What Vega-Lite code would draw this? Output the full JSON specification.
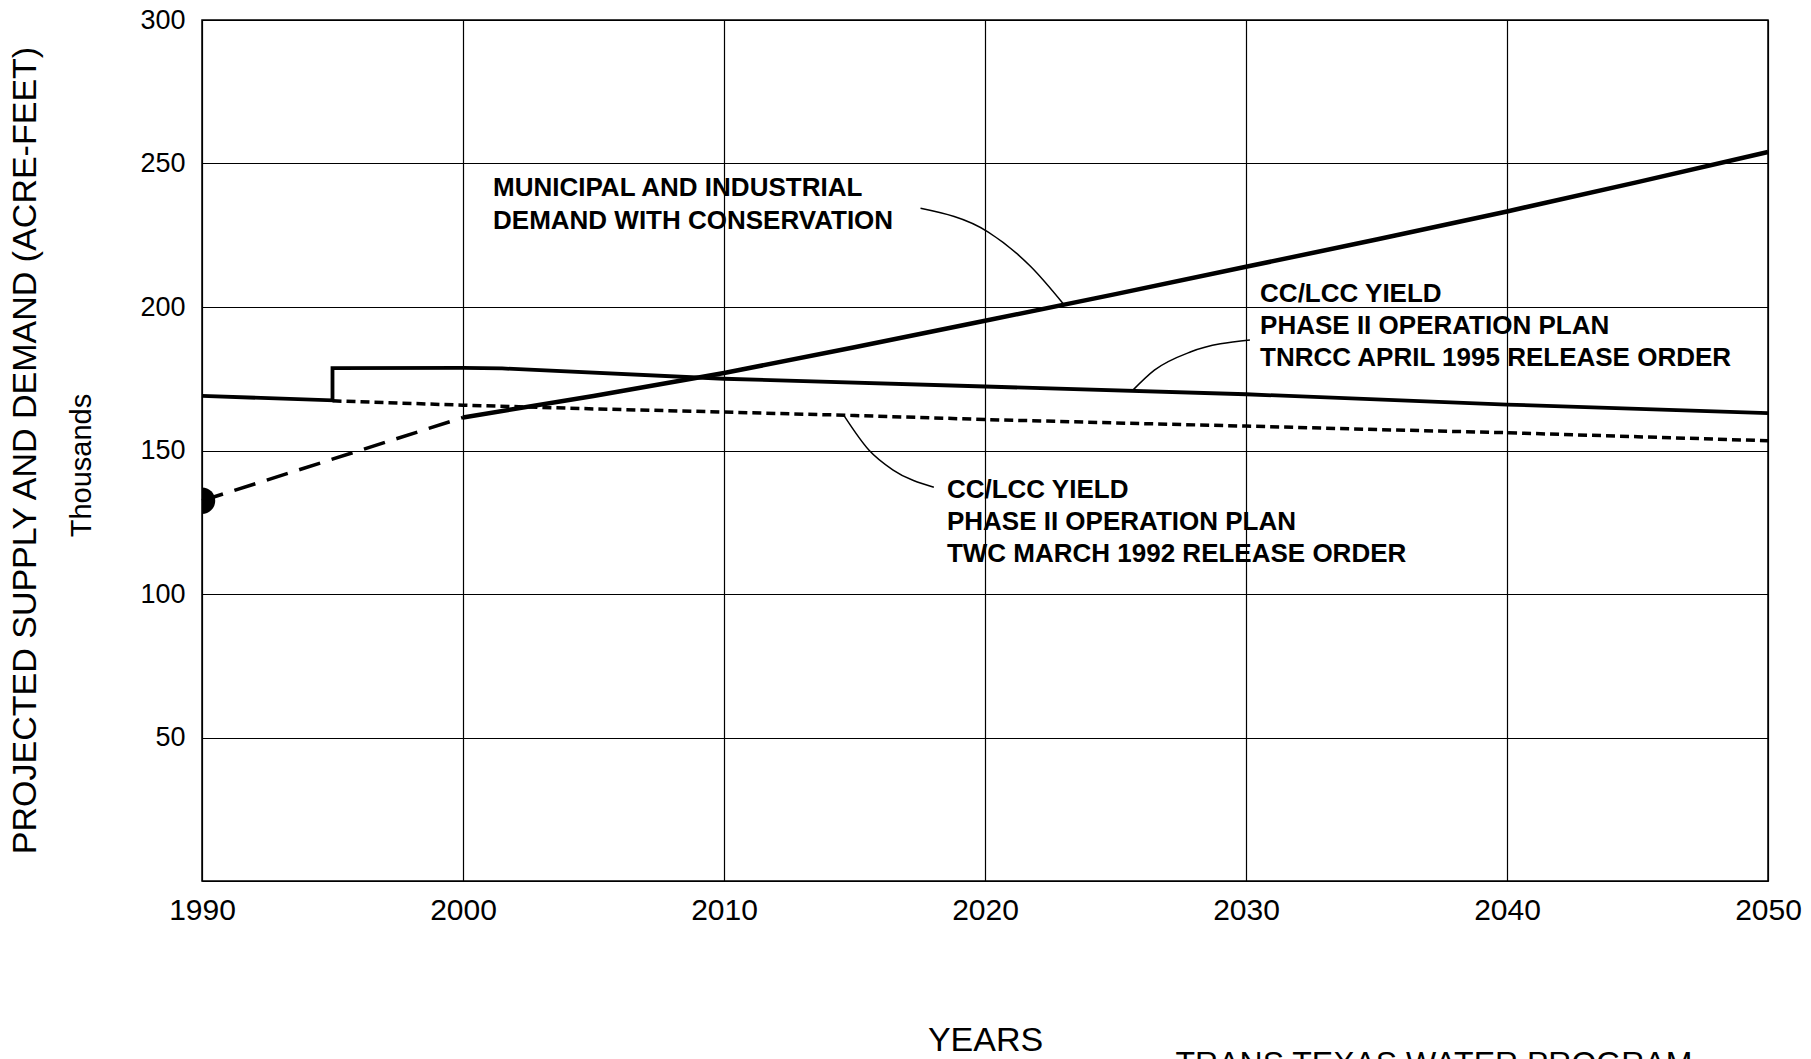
{
  "$schema": "https://vega.github.io/schema/vega-lite/v6.json",
  "width": 1566,
  "height": 861,
  "autosize": {"type": "none"},
  "padding": {"left": 202, "top": 20, "right": 43, "bottom": 178},
  "background": "white",
  "config": {
    "font": "Liberation Sans",
    "view": {"stroke": "black", "strokeWidth": 1.5}
  },
  "title": {
    "text": "PROJECTED SUPPLY AND DEMAND (ACRE-FEET)",
    "orient": "left",
    "anchor": "middle",
    "fontSize": 34,
    "fontWeight": "normal",
    "font": "Liberation Sans",
    "color": "black",
    "offset": 24
  },
  "data": {
    "values": [
      {"k": "demand", "year": 2000, "v": 161.5},
      {"k": "demand", "year": 2005, "v": 169},
      {"k": "demand", "year": 2010, "v": 177},
      {"k": "demand", "year": 2015, "v": 186},
      {"k": "demand", "year": 2020, "v": 195.2},
      {"k": "demand", "year": 2025, "v": 204.5},
      {"k": "demand", "year": 2030, "v": 214},
      {"k": "demand", "year": 2035, "v": 223.5},
      {"k": "demand", "year": 2040, "v": 233.3},
      {"k": "demand", "year": 2045, "v": 243.5},
      {"k": "demand", "year": 2050, "v": 254},
      {"k": "proj", "year": 1990, "v": 132.5},
      {"k": "proj", "year": 2000, "v": 161.5},
      {"k": "tnrcc", "o": 1, "year": 1990, "v": 169},
      {"k": "tnrcc", "o": 2, "year": 1995, "v": 167.5},
      {"k": "tnrcc", "o": 3, "year": 1995, "v": 178.7},
      {"k": "tnrcc", "o": 4, "year": 2000, "v": 178.8},
      {"k": "tnrcc", "o": 5, "year": 2001.5, "v": 178.6},
      {"k": "tnrcc", "o": 6, "year": 2010, "v": 175},
      {"k": "tnrcc", "o": 7, "year": 2020, "v": 172.3},
      {"k": "tnrcc", "o": 8, "year": 2030, "v": 169.6},
      {"k": "tnrcc", "o": 9, "year": 2040, "v": 166},
      {"k": "tnrcc", "o": 10, "year": 2050, "v": 163},
      {"k": "twc", "year": 1995, "v": 167.3},
      {"k": "twc", "year": 2000, "v": 165.8},
      {"k": "twc", "year": 2005, "v": 164.5},
      {"k": "twc", "year": 2010, "v": 163.4},
      {"k": "twc", "year": 2015, "v": 162.2},
      {"k": "twc", "year": 2020, "v": 160.8},
      {"k": "twc", "year": 2025, "v": 159.6},
      {"k": "twc", "year": 2030, "v": 158.5},
      {"k": "twc", "year": 2035, "v": 157.3},
      {"k": "twc", "year": 2040, "v": 156.2},
      {"k": "twc", "year": 2045, "v": 154.8},
      {"k": "twc", "year": 2050, "v": 153.4},
      {"k": "leader", "g": "a", "year": 2017.53, "v": 234.4},
      {"k": "leader", "g": "a", "year": 2020.11, "v": 226.2},
      {"k": "leader", "g": "a", "year": 2021.76, "v": 214},
      {"k": "leader", "g": "a", "year": 2022.99, "v": 201.2},
      {"k": "leader", "g": "b", "year": 2025.62, "v": 170.6},
      {"k": "leader", "g": "b", "year": 2026.49, "v": 178},
      {"k": "leader", "g": "b", "year": 2027.89, "v": 184.4},
      {"k": "leader", "g": "b", "year": 2030.15, "v": 188.5},
      {"k": "leader", "g": "c", "year": 2014.61, "v": 162},
      {"k": "leader", "g": "c", "year": 2015.55, "v": 150.2},
      {"k": "leader", "g": "c", "year": 2016.48, "v": 143.2},
      {"k": "leader", "g": "c", "year": 2018.04, "v": 137.2},
      {"k": "dot", "year": 1990, "v": 132.5},
      {"k": "label", "year": 2001.15, "v": 238.7, "label": "MUNICIPAL AND INDUSTRIAL"},
      {"k": "label", "year": 2001.15, "v": 227.3, "label": "DEMAND WITH CONSERVATION"},
      {"k": "label", "year": 2030.54, "v": 201.7, "label": "CC/LCC YIELD"},
      {"k": "label", "year": 2030.54, "v": 190.6, "label": "PHASE II OPERATION PLAN"},
      {"k": "label", "year": 2030.54, "v": 179.5, "label": "TNRCC APRIL 1995 RELEASE ORDER"},
      {"k": "label", "year": 2018.54, "v": 133.6, "label": "CC/LCC YIELD"},
      {"k": "label", "year": 2018.54, "v": 122.3, "label": "PHASE II OPERATION PLAN"},
      {"k": "label", "year": 2018.54, "v": 111.1, "label": "TWC MARCH 1992 RELEASE ORDER"},
      {"k": "footer", "year": 2027.3, "v": -58.5, "label": "TRANS TEXAS WATER PROGRAM"}
    ]
  },
  "encoding": {
    "x": {
      "field": "year",
      "type": "quantitative",
      "scale": {"domain": [1990, 2050], "nice": false, "zero": false},
      "axis": {
        "title": "YEARS",
        "values": [1990, 2000, 2010, 2020, 2030, 2040, 2050],
        "format": "d",
        "labelFontSize": 30,
        "labelColor": "black",
        "labelPadding": 14,
        "labelFlush": false,
        "ticks": false,
        "tickSize": 0,
        "domain": false,
        "grid": true,
        "gridColor": "black",
        "gridWidth": 1.2,
        "gridOpacity": 1,
        "titleFontSize": 34,
        "titleFontWeight": "normal",
        "titleColor": "black",
        "titleBaseline": "alphabetic",
        "titleY": 169
      }
    },
    "y": {
      "field": "v",
      "type": "quantitative",
      "scale": {"domain": [0, 300], "nice": false, "zero": true},
      "axis": {
        "title": "Thousands",
        "values": [0, 50, 100, 150, 200, 250, 300],
        "labelExpr": "datum.value == 0 ? '' : datum.label",
        "labelFontSize": 27,
        "labelColor": "black",
        "labelPadding": 17,
        "ticks": false,
        "tickSize": 0,
        "domain": false,
        "grid": true,
        "gridColor": "black",
        "gridWidth": 1.2,
        "gridOpacity": 1,
        "titleFontSize": 29,
        "titleFontWeight": "normal",
        "titleColor": "black",
        "titleAngle": -90,
        "titleBaseline": "alphabetic",
        "titleX": -112,
        "titleY": 445
      }
    }
  },
  "layer": [
    {
      "transform": [{"filter": "datum.k == 'demand'"}],
      "mark": {"type": "line", "color": "black", "strokeWidth": 4.5}
    },
    {
      "transform": [{"filter": "datum.k == 'proj'"}],
      "mark": {"type": "line", "color": "black", "strokeWidth": 3.5, "strokeDash": [22, 12]}
    },
    {
      "transform": [{"filter": "datum.k == 'tnrcc'"}],
      "mark": {"type": "line", "color": "black", "strokeWidth": 3.8},
      "encoding": {"order": {"field": "o", "type": "quantitative"}}
    },
    {
      "transform": [{"filter": "datum.k == 'twc'"}],
      "mark": {"type": "line", "color": "black", "strokeWidth": 3.5, "strokeDash": [9, 5]}
    },
    {
      "transform": [{"filter": "datum.k == 'leader'"}],
      "mark": {"type": "line", "color": "black", "strokeWidth": 1.5, "interpolate": "monotone"},
      "encoding": {"detail": {"field": "g", "type": "nominal"}}
    },
    {
      "transform": [{"filter": "datum.k == 'dot'"}],
      "mark": {"type": "point", "shape": "circle", "filled": true, "size": 700, "color": "black", "opacity": 1, "clip": true}
    },
    {
      "transform": [{"filter": "datum.k == 'label'"}],
      "mark": {"type": "text", "align": "left", "baseline": "alphabetic", "fontSize": 26, "fontWeight": "bold", "color": "black"},
      "encoding": {"text": {"field": "label", "type": "nominal"}}
    },
    {
      "transform": [{"filter": "datum.k == 'footer'"}],
      "mark": {"type": "text", "align": "left", "baseline": "top", "fontSize": 32, "color": "black"},
      "encoding": {"text": {"field": "label", "type": "nominal"}}
    }
  ]
}
